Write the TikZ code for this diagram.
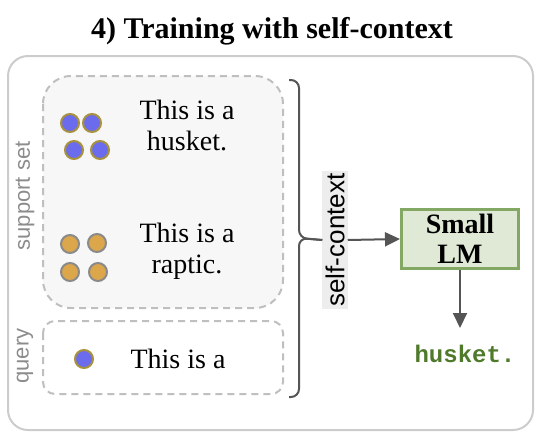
\documentclass[tikz,border=0pt]{standalone}
\usepackage{fontspec}
\setmainfont{Liberation Serif}
\setsansfont{Liberation Sans}
\setmonofont{Liberation Mono}
\usetikzlibrary{positioning,arrows.meta}

\definecolor{dotblue}{HTML}{6B6BEE}
\definecolor{dotgold}{HTML}{A8923C}
\definecolor{dotorange}{HTML}{DCA64B}
\definecolor{dotgray}{HTML}{8A8A8A}
\definecolor{lmfill}{HTML}{DFE9D6}
\definecolor{lmdraw}{HTML}{82A864}
\definecolor{outgreen}{HTML}{4F7A2B}
\definecolor{arrgray}{HTML}{555555}

\tikzset{
  bluedot/.style={circle, draw=dotgold, fill=dotblue, line width=2pt, minimum size=18pt, inner sep=0pt},
  orangedot/.style={circle, draw=dotgray, fill=dotorange, line width=2pt, minimum size=18pt, inner sep=0pt},
  bodytext/.style={font=\fontsize{28}{31}\selectfont, align=center, inner sep=0pt},
  sidelabel/.style={font=\sffamily\fontsize{22}{24}\selectfont, text=black!45, rotate=90, inner sep=0pt},
  setbox/.style={draw=black!25, dashed, dash pattern=on 7pt off 5pt, line width=2pt},
  arr/.style={draw=arrgray, line width=2pt, -{Triangle[length=15pt,width=14pt]}},
}

\begin{document}
\begin{tikzpicture}[x=1pt,y=-1pt]
\useasboundingbox (0,0) rectangle (554,440);

% frame and groups
\draw[black!20, line width=2pt, rounded corners=20pt] (8,56) rectangle (533,430);
\draw[setbox, fill=black!3, rounded corners=28pt] (43,76) rectangle (283,308);
\draw[setbox, rounded corners=12pt] (43,321) rectangle (283,394);

\node[font=\bfseries\fontsize{30}{32}\selectfont, anchor=base] (title) at (272,38) {4) Training with self-context};

\node[sidelabel] (sup) at (25,196) {support set};
\node[sidelabel] (qry) at (25,356) {query};

% support examples
\node[bluedot] (hb1) at (70,123) {};
\node[bluedot] (hb2) at (92,123) {};
\node[bluedot] (hb3) at (74,150) {};
\node[bluedot] (hb4) at (100,150) {};
\node[bodytext] (hus) at (187,125) {This is a\\husket.};

\node[orangedot] (ro1) at (70,244) {};
\node[orangedot] (ro2) at (97,243) {};
\node[orangedot] (ro3) at (70,272) {};
\node[orangedot] (ro4) at (98,272) {};
\node[bodytext] (rap) at (187,251) {This is a\\raptic.};

% query
\node[bluedot] (qd) at (84,359) {};
\node[bodytext, anchor=base] (qtxt) at (178,368) {This is a};

% self-context and model
\node[font=\sffamily\fontsize{26}{28}\selectfont, fill=black!7, rotate=90, inner sep=3pt] (sc) at (335,240) {self-context};
\node[draw=lmdraw, fill=lmfill, line width=3pt, minimum width=117pt, minimum height=59pt,
      font=\bfseries\fontsize{28}{30}\selectfont, align=center, inner sep=0pt] (lm) at (460,239) {Small\\LM};
\node[font=\ttfamily\bfseries\fontsize{24}{26}\selectfont, text=outgreen, anchor=base] (out) at (465,362) {husket.};
\coordinate (outtop) at (460,328);

% brace
\coordinate (bt) at (289,80);
\coordinate (bb) at (289,397);
\draw[arrgray, line width=2pt, rounded corners=8pt] (bt) -- (299,80) -- (299,238) -- (sc.north);
\draw[arrgray, line width=2pt, rounded corners=8pt] (bb) -- (299,397) -- (299,238) -- (sc.north);

\draw[arr] (sc.south) -- (lm.west);
\draw[arr] (lm.south) -- (outtop);
\end{tikzpicture}
\end{document}
